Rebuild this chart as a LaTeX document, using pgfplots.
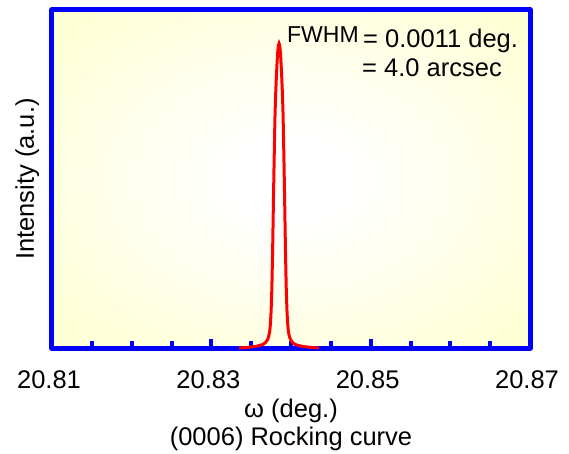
\documentclass[border=0pt]{standalone}
\usepackage{fontspec}
\setmainfont{Liberation Sans}
\usepackage{pgfplots}
\pgfplotsset{compat=1.18}
\newcommand\bigf{\fontsize{25.5}{30}\selectfont}
\newcommand\midf{\fontsize{23}{27}\selectfont}
\definecolor{bgyellow}{RGB}{255,255,212}
\pgfdeclareradialshading{bgshade}{\pgfpoint{0bp}{0bp}}{rgb(0bp)=(1,1,1); rgb(6bp)=(1,1,1); rgb(34bp)=(1,1,0.83); rgb(50bp)=(1,1,0.81)}
\begin{document}
\begin{tikzpicture}
\path[use as bounding box] (-52pt,-105pt) rectangle (517pt,348pt);
\begin{axis}[
  at={(0,0)}, anchor=south west,
  scale only axis, width=478pt, height=338pt,
  xmin=20.81, xmax=20.87, ymin=0, ymax=1.11,
  clip=false,
  axis background/.style={shade, shading=bgshade},
  axis line style={draw=blue, line width=5pt, line join=round, line cap=round},
  xtick={20.81,20.83,20.85,20.87},
  xticklabels={20.81,20.83,20.85,20.87},
  minor xtick={20.815,20.82,20.825,20.835,20.84,20.845,20.855,20.86,20.865},
  ytick=\empty,
  xtick pos=lower,
  tick align=inside,
  major tick length=9pt, minor tick length=7pt,
  every tick/.style={draw=blue, line width=4pt},
  minor tick style={draw=blue, line width=4pt},
  major tick style={draw=blue, line width=4pt},
  /pgf/number format/assume math mode=true,
  xticklabel style={font=\bigf, anchor=base, yshift=-40pt, xshift=-3pt},
  xlabel={ω (deg.)},
  xlabel style={font=\bigf, at={(axis description cs:0.5,0)}, anchor=base, yshift=-69pt},
  ylabel={Intensity (a.u.)},
  ylabel style={font=\bigf, at={(axis description cs:-0.0377,0.5)}, anchor=base},
]
\addplot[red, line width=3pt, smooth, tension=0.3] coordinates {
(20.8335,0.000) (20.8345,0.002) (20.8355,0.005) (20.8360,0.008) (20.8365,0.012)
(20.8368,0.018) (20.8371,0.030) (20.8373,0.050) (20.8374,0.075) (20.8375,0.120)
(20.8376,0.200) (20.8377,0.330) (20.8378,0.490) (20.8379,0.640) (20.8380,0.770)
(20.8381,0.850) (20.8382,0.910) (20.8383,0.960) (20.8384,0.990) (20.8385,1.000)
(20.8386,0.990) (20.8387,0.960) (20.8388,0.910) (20.8389,0.850) (20.8390,0.770)
(20.8391,0.640) (20.8392,0.490) (20.8393,0.330) (20.8394,0.200) (20.8395,0.120)
(20.8396,0.075) (20.8397,0.050) (20.8399,0.030) (20.8402,0.018) (20.8405,0.012)
(20.8410,0.008) (20.8415,0.005) (20.8425,0.002) (20.8435,0.000)
};
\node[font=\bigf, anchor=base] at (axis description cs:0.5,0) [yshift=-97pt] {(0006) Rocking curve};
\node[font=\midf, anchor=base west, inner sep=0pt] at (axis description cs:0.4916,0.9053) {FWHM};
\node[font=\bigf, anchor=base west, inner sep=0pt] at (axis description cs:0.6506,0.8905) {= 0.0011 deg.};
\node[font=\bigf, anchor=base west, inner sep=0pt] at (axis description cs:0.6485,0.8018) {= 4.0 arcsec};
\end{axis}
\end{tikzpicture}
\end{document}
